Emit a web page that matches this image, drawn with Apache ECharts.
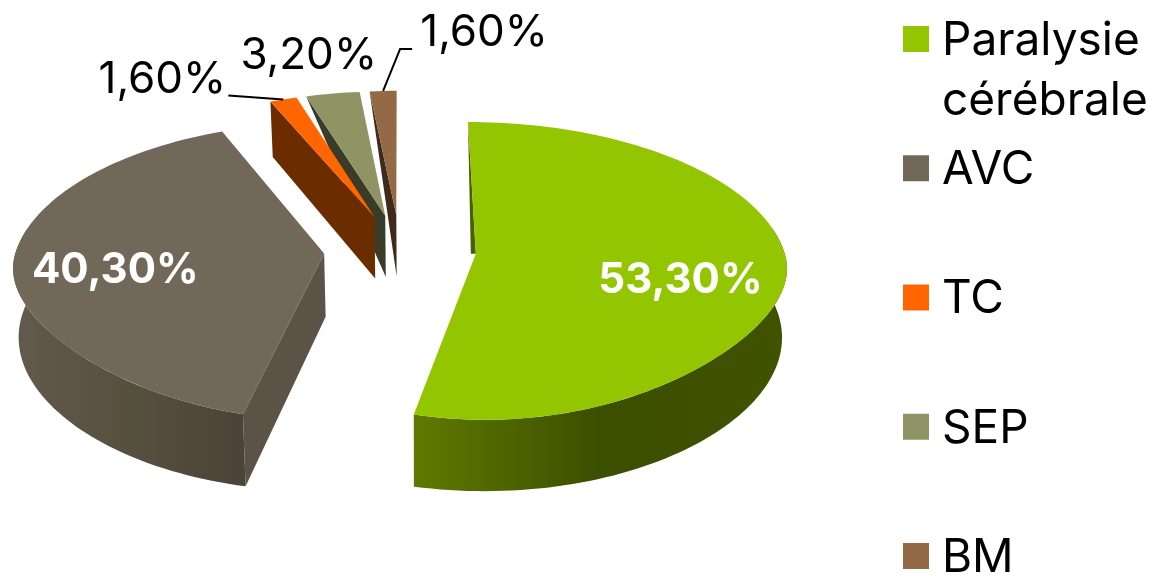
<!DOCTYPE html>
<html>
<head>
<meta charset="utf-8">
<style>html,body{margin:0;padding:0;background:#fff}#chart{width:1176px;height:576px}</style>
<script src="https://cdn.jsdelivr.net/npm/echarts@6/dist/echarts.min.js"></script>
</head>
<body>
<div id="chart"></div>
<script>
// Causes réparties en pourcentage
const categories = ['Paralysie cérébrale', 'AVC', 'TC', 'SEP', 'BM'];
const percentages = [53.3, 40.3, 1.6, 3.2, 1.6];

// Teintes : dessus, paroi radiale, dégradé de la paroi extérieure
const topColors = ['#94C600', '#71685A', '#FF6600', '#909465', '#936A45'];
const sideColors = ['#4A5F00', '#5A5346', '#6B2C00', '#3A3B28', '#3F2A1A'];
const rimStops = [['#5F7A00', '#3C4E00', '#405300'], ['#625A4D', '#56503F', '#4A4337'], null, null, null];

// Projection du disque éclaté ; les "pinch" resserrent l'arc avant entre les côtés et le bas
const VIEW = { cx: 400, cy: 250, rx: 308, ry: 146, persp: 0.115, depth: 63, burst: 0.2468, vanishX: 420, shrink: 0.0155, topPinch: 0.17, bottomPinch: 0.04 };
const FONT = 'Inter, "Liberation Sans", sans-serif';

// Étiquettes : décalage depuis un point intérieur de la tranche, ou depuis le milieu de l'arc
const insideLabelRadius = [0.66, 0.68, null, null, null];
const insideLabelShift = [[0, 18], [2, 9], null, null, null];
const outsideLabelOffset = [null, null, [-121, -20], [-24, -38], [101, -58]];
const leaderOffsets = [null, null, [[0, 0], [-55, -4]], null, [[0, 0], [17, -42], [29, -42]]];
// Forme de la paroi radiale : 'full' quadrilatère, 'taper' triangle vers le sommet inférieur, 'sliver' filet le long du bord
const sideShapes = ['sliver', 'full', 'full', 'taper', 'taper'];
const sliverWidth = 5;
// Empilement : les tranches du fond d'abord
const stacking = [5, 4, 3, 2, 1];

const formatPct = v => v.toFixed(2).replace('.', ',') + '%';
const total = percentages.reduce((a, b) => a + b, 0);
const rad = d => d * Math.PI / 180;

function project(X, Y, lowered) {
  const s = 1 / (1 - VIEW.persp * Y);
  let x = VIEW.cx + X * s;
  let y = VIEW.cy + VIEW.ry * Y * s;
  if (lowered) {
    y += VIEW.depth * s;
    x += (VIEW.vanishX - x) * VIEW.shrink;
  }
  return [x, y];
}

function sliceGeometry(index) {
  let acc = 0;
  for (let i = 0; i < index; i++) acc += percentages[i];
  const a0 = acc / total * 360;
  const a1 = (acc + percentages[index]) / total * 360;
  const mid = rad((a0 + a1) / 2);
  const ox = VIEW.burst * Math.sin(mid);
  const oy = -VIEW.burst * Math.cos(mid);
  const at = (deg, r, lowered) => {
    let v = -Math.cos(rad(deg));
    if (v > 0) v -= (lowered ? VIEW.bottomPinch : VIEW.topPinch) * v * (1 - v * v);
    return project(VIEW.rx * (ox + r * Math.sin(rad(deg))), oy + r * v, lowered);
  };
  return { a0, a1, at };
}

function arcPoints(g, from, to, lowered) {
  const pts = [];
  const steps = Math.max(2, Math.ceil(Math.abs(to - from) / 1.5));
  for (let i = 0; i <= steps; i++) pts.push(g.at(from + (to - from) * i / steps, 1, lowered));
  return pts;
}

function sidePolygon(g, shape) {
  const outer = g.at(g.a0, 1, false);
  const apex = g.at(g.a0, 0, false);
  if (shape === 'sliver') return [outer, apex, [apex[0] - sliverWidth, apex[1]]];
  if (shape === 'taper') return [outer, apex, g.at(g.a0, 0, true)];
  return [outer, apex, g.at(g.a0, 0, true), g.at(g.a0, 1, true)];
}

function renderSlice(params, api) {
  const i = params.dataIndex;
  const value = api.value(0);
  const g = sliceGeometry(i);
  const base = stacking[i] * 10;
  const children = [];

  // Paroi extérieure, seulement sur la partie avant du disque
  const from = Math.max(g.a0, 80), to = Math.min(g.a1, 280);
  if (rimStops[i] && to > from) {
    const rim = arcPoints(g, from, to, false).concat(arcPoints(g, from, to, true).reverse());
    children.push({
      type: 'polygon', z2: base,
      shape: { points: rim },
      style: {
        fill: new echarts.graphic.LinearGradient(0, 0, 1, 0, [
          { offset: 0, color: rimStops[i][0] },
          { offset: 0.5, color: rimStops[i][1] },
          { offset: 1, color: rimStops[i][2] }
        ])
      }
    });
  }

  // Paroi radiale du bord de départ
  children.push({ type: 'polygon', z2: base + 1, shape: { points: sidePolygon(g, sideShapes[i]) }, style: { fill: sideColors[i] } });

  // Dessus de la tranche
  const face = [g.at(g.a0, 0, false)].concat(arcPoints(g, g.a0, g.a1, false));
  children.push({ type: 'polygon', z2: base + 2, shape: { points: face }, style: { fill: topColors[i] } });

  const midDeg = (g.a0 + g.a1) / 2;
  const anchor = g.at(midDeg, 1, false);
  let labelPos, labelStyle;
  if (insideLabelRadius[i] !== null) {
    const p = g.at(midDeg, insideLabelRadius[i], false);
    labelPos = [p[0] + insideLabelShift[i][0], p[1] + insideLabelShift[i][1]];
    labelStyle = { fill: '#fff', font: 'bold 42px ' + FONT };
  } else {
    labelPos = [anchor[0] + outsideLabelOffset[i][0], anchor[1] + outsideLabelOffset[i][1]];
    labelStyle = { fill: '#000', font: '44px ' + FONT };
  }
  children.push({
    type: 'text', z2: 200,
    style: Object.assign({ text: formatPct(value), x: labelPos[0], y: labelPos[1], align: 'center', verticalAlign: 'middle' }, labelStyle)
  });

  if (leaderOffsets[i]) {
    children.push({
      type: 'polyline', z2: 190,
      shape: { points: leaderOffsets[i].map(o => [anchor[0] + o[0], anchor[1] + o[1]]) },
      style: { stroke: '#000', lineWidth: 2, fill: null }
    });
  }
  return { type: 'group', children };
}

// Légende à droite : carré de couleur et libellé, le premier sur deux lignes
const legendTop = 26, legendPitch = 129.25, legendLine = 60;
const legendItems = categories.flatMap((name, i) => {
  const y = legendTop + i * legendPitch;
  const items = [{ type: 'rect', shape: { x: 903, y: y, width: 26, height: 26 }, style: { fill: topColors[i] } }];
  name.split(' ').forEach((line, j) => items.push({
    type: 'text',
    style: { text: line, x: 942, y: y + 15 + j * legendLine, verticalAlign: 'middle', fill: '#000', font: '46px ' + FONT }
  }));
  return items;
});

const chart = echarts.init(document.getElementById('chart'), null, { renderer: 'canvas' });
chart.setOption({
  backgroundColor: '#fff',
  animation: false,
  graphic: legendItems,
  series: [{
    type: 'custom',
    coordinateSystem: 'none',
    silent: true,
    renderItem: renderSlice,
    encode: { value: 0 },
    data: percentages.map((v, i) => ({ name: categories[i], value: [v] }))
  }]
});
</script>
</body>
</html>
